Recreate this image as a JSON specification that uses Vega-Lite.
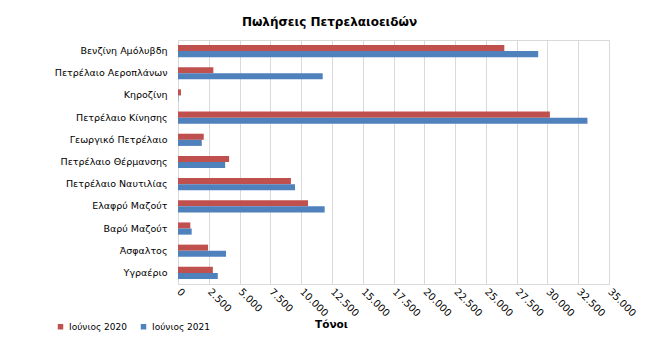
{
  "$schema": "https://vega.github.io/schema/vega-lite/v6.json",
  "autosize": {"type": "none"},
  "width": 431,
  "height": 244,
  "padding": {"left": 178, "top": 40, "right": 52, "bottom": 70},
  "background": "white",
  "title": {
    "text": "Πωλήσεις Πετρελαιοειδών",
    "font": "DejaVu Sans",
    "fontSize": 12,
    "fontWeight": "bold",
    "color": "#000000",
    "anchor": "middle",
    "dx": -64,
    "offset": 11
  },
  "data": {
    "values": [
      {"product": "Βενζίνη Αμόλυβδη", "period": "Ιούνιος 2020", "tons": 26500},
      {"product": "Βενζίνη Αμόλυβδη", "period": "Ιούνιος 2021", "tons": 29250},
      {"product": "Πετρέλαιο Αεροπλάνων", "period": "Ιούνιος 2020", "tons": 2870},
      {"product": "Πετρέλαιο Αεροπλάνων", "period": "Ιούνιος 2021", "tons": 11750},
      {"product": "Κηροζίνη", "period": "Ιούνιος 2020", "tons": 240},
      {"product": "Κηροζίνη", "period": "Ιούνιος 2021", "tons": 30},
      {"product": "Πετρέλαιο Κίνησης", "period": "Ιούνιος 2020", "tons": 30200},
      {"product": "Πετρέλαιο Κίνησης", "period": "Ιούνιος 2021", "tons": 33250},
      {"product": "Γεωργικό Πετρέλαιο", "period": "Ιούνιος 2020", "tons": 2090},
      {"product": "Γεωργικό Πετρέλαιο", "period": "Ιούνιος 2021", "tons": 1930},
      {"product": "Πετρέλαιο Θέρμανσης", "period": "Ιούνιος 2020", "tons": 4150},
      {"product": "Πετρέλαιο Θέρμανσης", "period": "Ιούνιος 2021", "tons": 3830},
      {"product": "Πετρέλαιο Ναυτιλίας", "period": "Ιούνιος 2020", "tons": 9170},
      {"product": "Πετρέλαιο Ναυτιλίας", "period": "Ιούνιος 2021", "tons": 9500},
      {"product": "Ελαφρύ Μαζούτ", "period": "Ιούνιος 2020", "tons": 10560},
      {"product": "Ελαφρύ Μαζούτ", "period": "Ιούνιος 2021", "tons": 11910},
      {"product": "Βαρύ Μαζούτ", "period": "Ιούνιος 2020", "tons": 1000},
      {"product": "Βαρύ Μαζούτ", "period": "Ιούνιος 2021", "tons": 1110},
      {"product": "Άσφαλτος", "period": "Ιούνιος 2020", "tons": 2440},
      {"product": "Άσφαλτος", "period": "Ιούνιος 2021", "tons": 3900},
      {"product": "Υγραέριο", "period": "Ιούνιος 2020", "tons": 2830},
      {"product": "Υγραέριο", "period": "Ιούνιος 2021", "tons": 3230}
    ]
  },
  "mark": {"type": "bar"},
  "encoding": {
    "y": {
      "field": "product",
      "type": "nominal",
      "sort": null,
      "scale": {"paddingInner": 0.45, "paddingOuter": 0.225},
      "axis": {
        "title": null,
        "ticks": false,
        "domain": false,
        "labelPadding": 11,
        "labelFont": "DejaVu Sans",
        "labelFontSize": 9.5,
        "labelColor": "#000000"
      }
    },
    "yOffset": {
      "field": "period",
      "type": "nominal",
      "sort": ["Ιούνιος 2020", "Ιούνιος 2021"],
      "scale": {"paddingInner": 0, "paddingOuter": 0}
    },
    "x": {
      "field": "tons",
      "type": "quantitative",
      "scale": {"domain": [0, 35000], "nice": false},
      "axis": {
        "values": [0, 2500, 5000, 7500, 10000, 12500, 15000, 17500, 20000, 22500, 25000, 27500, 30000, 32500, 35000],
        "format": ",d",
        "title": "Τόνοι",
        "titleFont": "DejaVu Sans",
        "titleFontSize": 10.5,
        "titleFontWeight": "bold",
        "titleColor": "#000000",
        "titleX": 153,
        "titleY": 40,
        "titleAlign": "center",
        "titleBaseline": "middle",
        "ticks": false,
        "domain": false,
        "grid": true,
        "gridColor": "#D9D9D9",
        "labelAngle": 45,
        "labelAlign": "left",
        "labelBaseline": "middle",
        "labelPadding": 6,
        "labelFont": "DejaVu Sans",
        "labelFontSize": 10,
        "labelColor": "#000000",
        "labelFlush": false,
        "labelOverlap": false
      }
    },
    "color": {
      "field": "period",
      "type": "nominal",
      "scale": {"domain": ["Ιούνιος 2020", "Ιούνιος 2021"], "range": ["#C0504D", "#4F81BD"]},
      "legend": {
        "title": null,
        "orient": "none",
        "legendX": -122,
        "legendY": 282,
        "direction": "horizontal",
        "symbolType": "square",
        "symbolSize": 30,
        "symbolStrokeWidth": 0,
        "labelFont": "DejaVu Sans",
        "labelFontSize": 9,
        "labelColor": "#000000",
        "columnPadding": 12,
        "symbolOffset": 0
      }
    }
  },
  "config": {
    "locale": {"number": {"decimal": ",", "thousands": ".", "grouping": [3], "currency": ["", " €"]}},
    "view": {"stroke": "#D9D9D9"}
  }
}
